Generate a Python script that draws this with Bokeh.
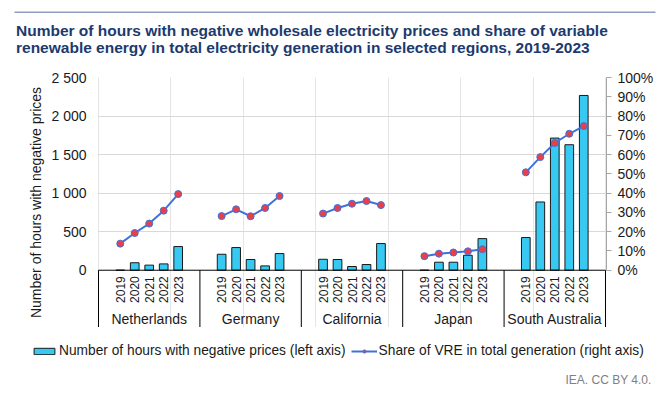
import numpy as np
from bokeh.plotting import figure
from bokeh.layouts import column
from bokeh.models import (Range1d, LinearAxis, FixedTicker, Legend, LegendItem, Label)
from bokeh.core.properties import value
from bokeh.embed import file_html
from bokeh.resources import INLINE

# ---------------- data ----------------
regions = ["Netherlands", "Germany", "California", "Japan", "South Australia"]
years = ["2019", "2020", "2021", "2022", "2023"]

hours_netherlands = [0, 97, 66, 82, 307]
hours_germany = [207, 294, 139, 56, 216]
hours_california = [142, 139, 48, 74, 346]
hours_japan = [0, 104, 104, 194, 410]
hours_south_australia = [424, 885, 1714, 1628, 2267]

share_netherlands = [13.8, 19.3, 24.2, 30.9, 39.5]
share_germany = [28.1, 31.6, 28.0, 32.3, 38.5]
share_california = [29.4, 32.3, 34.5, 35.9, 33.8]
share_japan = [7.3, 8.6, 9.2, 9.8, 10.9]
share_south_australia = [50.8, 58.7, 66.0, 70.8, 74.8]

left_ticks = [0, 500, 1000, 1500, 2000, 2500]
left_tick_labels = ["0", "500", "1 000", "1 500", "2 000", "2 500"]
right_ticks = [0, 10, 20, 30, 40, 50, 60, 70, 80, 90, 100]
right_tick_labels = ["0%", "10%", "20%", "30%", "40%", "50%", "60%", "70%", "80%", "90%", "100%"]

title_line1 = "Number of hours with negative wholesale electricity prices and share of variable"
title_line2 = "renewable energy in total electricity generation in selected regions, 2019-2023"
y_label = "Number of hours with negative prices"
bar_label = "Number of hours with negative prices (left axis)"
line_label = "Share of VRE in total generation (right axis)"
source_text = "IEA. CC BY 4.0."

hours = [hours_netherlands, hours_germany, hours_california, hours_japan, hours_south_australia]
shares = [share_netherlands, share_germany, share_california, share_japan, share_south_australia]

# ---------------- styles ----------------
FONT = "Liberation Sans"
SLOTS = 7
BAR_FILL = "#38c9f3"
BAR_LINE = "#1a1a1a"
LINE_COL = "#3f72d8"
DOT_COL = "#e8404a"
TITLE_COL = "#1c3a6e"
TXT = "#1a1a1a"
W = 666
TH = 63
MH = 264
BH = 393 - TH - MH

# ---------------- title strip ----------------
pt = figure(width=W, height=TH, output_backend="svg", toolbar_location=None,
            x_axis_location=None, y_axis_location=None, min_border=0,
            x_range=Range1d(0, W), y_range=Range1d(0, TH), frame_align=False)
pt.outline_line_color = None
pt.xgrid.visible = False
pt.ygrid.visible = False
pt.segment(x0=[14], y0=[TH - 11.7], x1=[655], y1=[TH - 11.7], line_color="#8c9fc0", line_width=1.5)
pt.add_layout(Label(x=15.5, y=TH - 29.5, text=title_line1, text_font=FONT, text_font_size="15.5px",
                    text_font_style="bold", text_color=TITLE_COL, text_baseline="alphabetic"))
pt.add_layout(Label(x=15.5, y=TH - 46.7, text=title_line2, text_font=FONT, text_font_size="15.5px",
                    text_font_style="bold", text_color=TITLE_COL, text_baseline="alphabetic"))

# ---------------- main chart ----------------
Y0, Y1 = -743, 2500
p = figure(width=W, height=MH, output_backend="svg", toolbar_location=None,
           x_range=Range1d(-0.07, 35.07), y_range=Range1d(Y0, Y1),
           x_axis_location=None, frame_align=False,
           min_border_left=97, min_border_right=60, min_border_top=14, min_border_bottom=0)
p.outline_line_color = None

ya = p.yaxis[0]
ya.ticker = FixedTicker(ticks=left_ticks)
ya.major_label_overrides = {t: l for t, l in zip(left_ticks, left_tick_labels)}
ya.axis_line_color = None
ya.major_tick_line_color = None
ya.major_tick_in = 0
ya.major_tick_out = 0
ya.minor_tick_line_color = None
ya.minor_tick_in = 0
ya.minor_tick_out = 0
ya.major_label_standoff = 11
ya.major_label_text_font = FONT
ya.major_label_text_font_size = "14px"
ya.major_label_text_color = TXT
ya.axis_label = y_label
ya.axis_label_text_font = FONT
ya.axis_label_text_font_size = "14px"
ya.axis_label_text_font_style = "normal"
ya.axis_label_text_color = TXT
ya.axis_label_standoff = 4

p.ygrid.ticker = FixedTicker(ticks=left_ticks[1:])
p.ygrid.grid_line_color = "#d9d9d9"
p.ygrid.grid_line_width = 1

p.extra_y_ranges = {"pct": Range1d(Y0 / 25.0, Y1 / 25.0)}
ra = LinearAxis(y_range_name="pct", ticker=FixedTicker(ticks=right_ticks))
ra.major_label_overrides = {t: l for t, l in zip(right_ticks, right_tick_labels)}
ra.bounds = (0, 100)
ra.axis_line_color = "#a6a6a6"
ra.major_tick_line_color = "#a6a6a6"
ra.major_tick_in = 0
ra.major_tick_out = 5
ra.minor_tick_line_color = None
ra.minor_tick_in = 0
ra.minor_tick_out = 0
ra.major_label_standoff = 6
ra.major_label_text_font = FONT
ra.major_label_text_font_size = "14px"
ra.major_label_text_color = TXT
p.add_layout(ra, "right")

bx, btop = [], []
for g, hs in enumerate(hours):
    for i, h in enumerate(hs):
        bx.append(g * SLOTS + 1.5 + i)
        btop.append(h)
bar_r = p.vbar(x=bx, top=btop, bottom=0, width=0.6, fill_color=BAR_FILL,
               line_color=BAR_LINE, line_width=1)

for g, sh in enumerate(shares):
    xs = [g * SLOTS + 1.5 + i for i in range(len(sh))]
    p.line(xs, sh, y_range_name="pct", line_color=LINE_COL, line_width=2)
    p.scatter(xs, sh, y_range_name="pct", size=7, fill_color=DOT_COL,
              line_color=LINE_COL, line_width=1)

# category axis frame
p.segment(x0=[0], y0=[0], x1=[SLOTS * len(regions)], y1=[0], line_color="black", line_width=1)
sep_x = [g * SLOTS for g in range(len(regions) + 1)]
p.segment(x0=sep_x, y0=[0] * len(sep_x), x1=sep_x, y1=[Y0] * len(sep_x),
          line_color="black", line_width=1)
yl_x, yl_t = [], []
for g in range(len(regions)):
    for i, y in enumerate(years):
        yl_x.append(g * SLOTS + 1.5 + i)
        yl_t.append(y)
p.text(x=yl_x, y=[-78] * len(yl_x), text=yl_t, angle=np.pi / 2, text_align="right",
       text_baseline="middle", text_font=value(FONT), text_font_size="12px", text_color=TXT)
p.text(x=[g * SLOTS + 3.5 for g in range(len(regions))], y=[-627] * len(regions), text=regions,
       text_align="center", text_baseline="middle", text_font=value(FONT),
       text_font_size="14px", text_color=TXT)

# ---------------- legend + source strip ----------------
LB_LEFT, LB_TOP = 31, 16
pb = figure(width=W, height=BH, output_backend="svg", toolbar_location=None,
            x_axis_location=None, y_axis_location=None, frame_align=False,
            x_range=Range1d(0, W - LB_LEFT), y_range=Range1d(0, BH - LB_TOP),
            min_border_left=LB_LEFT, min_border_top=LB_TOP, min_border_right=0, min_border_bottom=0)
pb.outline_line_color = None
pb.xgrid.visible = False
pb.ygrid.visible = False
# legend helper glyphs (placed far outside the visible range; only their legend swatches show)
lg_bar = pb.vbar(x=[-5000], top=[-5000], bottom=-5001, width=0.6, fill_color=BAR_FILL,
                 line_color=BAR_LINE, line_width=1)
lg_line = pb.line(x=[-5001, -5000], y=[-5000, -5000], line_color=LINE_COL, line_width=2)
lg_dot = pb.scatter(x=[-5000], y=[-5000], size=6, fill_color=DOT_COL, line_color=LINE_COL, line_width=1)
legend = Legend(items=[LegendItem(label=bar_label, renderers=[lg_bar]),
                       LegendItem(label=line_label, renderers=[lg_line, lg_dot])],
                location="top_left", orientation="horizontal",
                padding=0, margin=0, spacing=5, border_line_color=None,
                background_fill_alpha=0, glyph_width=26, glyph_height=8,
                label_height=8, label_standoff=2,
                label_text_font=FONT, label_text_font_size="13.75px", label_text_color=TXT)
pb.add_layout(legend)
pb.add_layout(Label(x=651 - LB_LEFT, y=393 - 379 - 0, text=source_text, text_font=FONT,
                    text_font_size="12px", text_color="#808080",
                    text_align="right", text_baseline="middle"))

layout = column(pt, p, pb, spacing=0)
open("out.html", "w").write(file_html(layout, INLINE))
